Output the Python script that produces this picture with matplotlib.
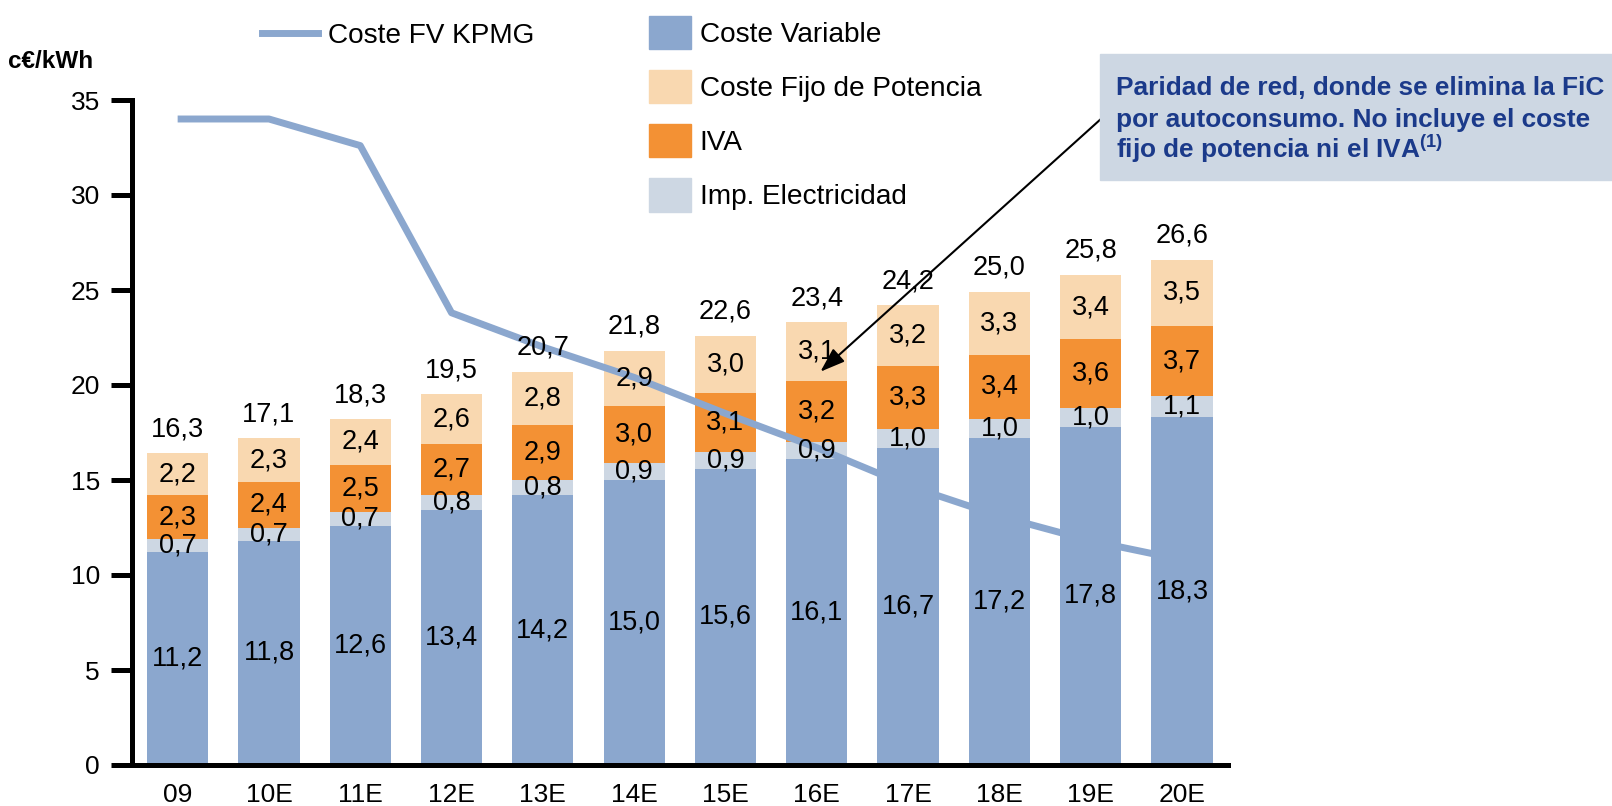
import numpy as np
import matplotlib.pyplot as plt
from matplotlib.patches import Rectangle, Patch
from matplotlib.lines import Line2D

years = ['09', '10E', '11E', '12E', '13E', '14E', '15E', '16E', '17E', '18E', '19E', '20E']
coste_variable = [11.2, 11.8, 12.6, 13.4, 14.2, 15.0, 15.6, 16.1, 16.7, 17.2, 17.8, 18.3]
imp_electricidad = [0.7, 0.7, 0.7, 0.8, 0.8, 0.9, 0.9, 0.9, 1.0, 1.0, 1.0, 1.1]
iva = [2.3, 2.4, 2.5, 2.7, 2.9, 3.0, 3.1, 3.2, 3.3, 3.4, 3.6, 3.7]
coste_fijo = [2.2, 2.3, 2.4, 2.6, 2.8, 2.9, 3.0, 3.1, 3.2, 3.3, 3.4, 3.5]
totales = [16.3, 17.1, 18.3, 19.5, 20.7, 21.8, 22.6, 23.4, 24.2, 25.0, 25.8, 26.6]
coste_fv_kpmg = [34.0, 34.0, 32.6, 23.8, 22.0, 20.4, 18.5, 16.7, 14.7, 13.1, 11.8, 10.8]

c_var = '#8BA7CE'
c_imp = '#CDD7E3'
c_iva = '#F39134'
c_fijo = '#F9D8B0'
c_box = '#CDD7E3'
c_txt = '#1B3A8A'

plt.rcParams['font.family'] = ['Liberation Sans', 'DejaVu Sans']
plt.rcParams['mathtext.fontset'] = 'custom'
plt.rcParams['mathtext.rm'] = 'Liberation Sans'
plt.rcParams['mathtext.bf'] = 'Liberation Sans:bold'


def fmt(v):
    return f'{v:.1f}'.replace('.', ',')


fig = plt.figure(figsize=(16.12, 8.06), dpi=100)
ax = fig.add_axes([132 / 1612, 41 / 806, 1095.6 / 1612, 665 / 806])
ax.patch.set_alpha(0)

x = np.arange(len(years))
w = 0.67
bottom = np.zeros(len(years))
for vals, col in [(coste_variable, c_var), (imp_electricidad, c_imp), (iva, c_iva), (coste_fijo, c_fijo)]:
    ax.bar(x, vals, w, bottom=bottom, color=col, zorder=1)
    for xi, b, v in zip(x, bottom, vals):
        ax.text(xi, b + v / 2, fmt(v), ha='center', va='center', fontsize=19.5, zorder=5)
    bottom = bottom + np.array(vals)

for xi, top, t in zip(x, bottom, totales):
    ax.annotate(fmt(t), (xi, top), xytext=(0, 8), textcoords='offset points',
                ha='center', va='bottom', fontsize=19.5, zorder=5)

ax.plot(x, coste_fv_kpmg, color=c_var, lw=5, zorder=3, solid_capstyle='butt')

ax.set_xlim(-0.5, 11.5)
ax.set_ylim(0, 35)
ax.set_yticks(range(0, 36, 5))
ax.set_xticks(x)
ax.set_xticklabels(years)
ax.tick_params(axis='y', length=15, width=3.6, pad=8, labelsize=19)
ax.tick_params(axis='x', length=0, pad=13, labelsize=19)
for s in ['top', 'right']:
    ax.spines[s].set_visible(False)
for s in ['left', 'bottom']:
    ax.spines[s].set_linewidth(3.6)

fig.text(8 / 1612, 1 - 61 / 806, 'c€/kWh', fontsize=17.5, fontweight='bold', va='center')

# leyendas
fig.legend([Line2D([0], [0], color=c_var, lw=5)], ['Coste FV KPMG'],
           loc='center left', bbox_to_anchor=(262 / 1612, 1 - 36 / 806),
           frameon=False, fontsize=20.2, handlelength=2.0, handletextpad=0.35,
           borderpad=0, borderaxespad=0)
fig.legend([Patch(color=c_var), Patch(color=c_fijo), Patch(color=c_iva), Patch(color=c_imp)],
           ['Coste Variable', 'Coste Fijo de Potencia', 'IVA', 'Imp. Electricidad'],
           loc='upper left', bbox_to_anchor=(649 / 1612, 1 - 16 / 806),
           frameon=False, fontsize=20.2, handlelength=1.5, handleheight=1.45,
           labelspacing=0.74, handletextpad=0.3, borderpad=0, borderaxespad=0)

# cuadro de nota
fig.add_artist(Rectangle((1100 / 1612, 1 - 180 / 806), 512 / 1612, 126 / 806,
                         transform=fig.transFigure, color=c_box, zorder=1))
nota = ['Paridad de red, donde se elimina la FiC',
        'por autoconsumo. No incluye el coste',
        r'fijo de potencia ni el IVA$^{\mathbf{(1)}}$']
for i, t in enumerate(nota):
    fig.text(1116 / 1612, 1 - (95 + 31.5 * i) / 806, t, fontsize=18.9, fontweight='bold',
             color=c_txt, va='baseline', zorder=2)

ax.annotate('', xy=(7.04, 20.7), xycoords='data', xytext=(1102, 806 - 118),
            textcoords='figure pixels', annotation_clip=False,
            arrowprops=dict(arrowstyle='-|>,head_length=1.0,head_width=0.35',
                            mutation_scale=15, lw=1.5, color='black',
                            shrinkA=0, shrinkB=0))

fig.savefig('out.png', dpi=100)
